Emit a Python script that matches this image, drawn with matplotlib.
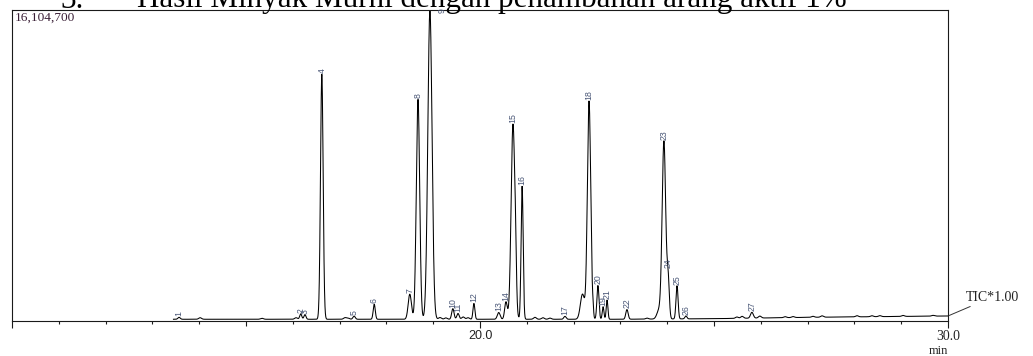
import numpy as np
import matplotlib
matplotlib.use("Agg")
import matplotlib.pyplot as plt

# ---------------------------------------------------------------------------
# GC-MS total ion chromatogram: labelled peaks (retention time in min,
# height above baseline in counts, peak sigma in min)
# ---------------------------------------------------------------------------
peak_ids = [str(i) for i in range(1, 28)]
peak_rt = [13.57, 16.17, 16.26, 16.62, 17.31, 17.74, 18.50, 18.675, 18.93,
           19.42, 19.53, 19.87, 20.40, 20.555, 20.705, 20.90, 21.815, 22.33,
           22.63, 22.52, 22.715, 23.14, 23.93, 24.02, 24.21, 24.40, 25.81]
peak_height = [100000, 280000, 240000, 12690000, 160000, 780000, 1300000,
               11390000, 16000000, 550000, 300000, 820000, 350000, 900000,
               10100000, 6900000, 150000, 11300000, 650000, 1750000, 1000000,
               500000, 9200000, 2000000, 1720000, 150000, 300000]
peak_sigma = [0.025, 0.022, 0.022, 0.028, 0.025, 0.022, 0.035, 0.036, 0.045,
              0.025, 0.025, 0.020, 0.030, 0.028, 0.040, 0.022, 0.025, 0.036,
              0.018, 0.022, 0.018, 0.025, 0.038, 0.025, 0.022, 0.022, 0.030]

# unlabelled shoulders and small baseline bumps
minor_rt = [22.19, 23.825, 20.76, 22.415,
            14.02, 15.34, 16.07, 17.115, 17.18, 19.145, 19.27, 19.64, 19.745,
            21.175, 21.345, 21.495, 23.57, 25.49, 25.60, 25.98, 26.52, 26.69,
            27.115, 27.31, 28.055, 28.375, 28.545, 29.04, 29.68]
minor_height = [1300000, 450000, 1500000, 350000,
                80000, 50000, 80000, 80000, 60000, 90000, 70000, 120000, 80000,
                100000, 80000, 60000, 50000, 70000, 100000, 100000, 50000, 50000,
                50000, 70000, 60000, 50000, 50000, 50000, 40000]
minor_sigma = [0.045, 0.045, 0.018, 0.012] + [0.03] * 25

# baseline level read at a few retention times
baseline_rt = [13.45, 20.0, 23.0, 25.0, 27.0, 30.0]
baseline_level = [90000, 90000, 90000, 120000, 190000, 260000]

y_max = 16104700
x_range = (10.0, 30.0)
run_start = 13.45

# ---------------------------------------------------------------------------
t = np.linspace(run_start, x_range[1], 8000)
signal = np.interp(t, baseline_rt, baseline_level)
for rt, h, s in zip(peak_rt + minor_rt, peak_height + minor_height,
                    peak_sigma + minor_sigma):
    signal = signal + h * np.exp(-0.5 * ((t - rt) / s) ** 2)

W, H = 1033, 356
fig = plt.figure(figsize=(W / 100, H / 100), dpi=100)
ax = fig.add_axes([12 / W, 1 - 321 / H, (948 - 12) / W, (321 - 10) / H])
ax.set_xlim(*x_range)
ax.set_ylim(0, y_max)

ax.plot(t, signal, color="black", lw=0.75, solid_joinstyle="miter")

for s in ax.spines.values():
    s.set_linewidth(0.8)
    s.set_color("#1a1a1a")

ax.set_yticks([])
ax.set_xticks([10, 20, 30])
ax.set_xticklabels(["", "20.0", ""], fontfamily="Liberation Sans", fontsize=9,
                   color="#222222")
ax.set_xticks([i for i in range(11, 30) if i not in (15, 20, 25)], minor=True)
ax.tick_params(axis="x", which="major", length=5, width=0.8, direction="out",
               pad=1.5, color="#1a1a1a")
ax.tick_params(axis="x", which="minor", length=2.2, width=0.8, direction="out",
               color="#1a1a1a")
sec = ax.secondary_xaxis("bottom")
sec.set_xticks([15, 25])
sec.set_xticklabels(["", ""])
sec.tick_params(length=3.6, width=0.8, direction="out", color="#1a1a1a")
sec.spines["bottom"].set_visible(False)

serif = "Liberation Serif"
ax.annotate("30.0", xy=(30, 0), xycoords=("data", "axes fraction"),
            xytext=(0, -6.3), textcoords="offset points", ha="center",
            va="top", fontfamily=serif, fontsize=9.9, color="#222222",
            annotation_clip=False)
ax.annotate("min", xy=(30, 0), xycoords=("data", "axes fraction"),
            xytext=(-6.8, -17.5), textcoords="offset points", ha="center",
            va="top", fontfamily=serif, fontsize=9.0, color="#222222",
            annotation_clip=False)

ax.text(3 / 936, 1 - 2 / 311, f"{y_max:,}", transform=ax.transAxes,
        ha="left", va="top", fontfamily=serif, fontsize=9.6, color="#3a1f36")

# end-of-trace tag
ax.annotate("TIC*1.00", xy=(t[-1], signal[-1]), xycoords="data",
            xytext=(12.5, 13.5), textcoords="offset points", ha="left",
            va="center", fontfamily=serif, fontsize=10, color="#222222",
            annotation_clip=False,
            arrowprops=dict(arrowstyle="-", lw=0.7, color="#333333",
                            shrinkA=0, shrinkB=1))

# peak numbers
label_color = "#4b5878"
for pid, rt in zip(peak_ids, peak_rt):
    top = np.interp(rt, t, signal)
    if top > y_max * 0.97:
        ax.annotate(pid, xy=(rt, y_max), xytext=(8.5, 1.5),
                    textcoords="offset points", rotation=90, ha="center",
                    va="top", fontfamily="Liberation Sans", fontsize=6.3,
                    color=label_color, annotation_clip=False)
    else:
        ax.annotate(pid, xy=(rt, top), xytext=(0, 0.8),
                    textcoords="offset points", rotation=90, ha="center",
                    va="bottom", fontfamily="Liberation Sans", fontsize=6.3,
                    color=label_color, annotation_clip=False)

# heading above the chart
title_y = 1 - 7.5 / H
num = fig.text(60 / W, title_y, "3.", ha="left", va="baseline",
               fontfamily=serif, fontsize=20, color="black")
head = fig.text(137 / W, title_y,
                "Hasil Minyak Murni dengan penambahan arang aktif 1%",
                ha="left", va="baseline", fontfamily=serif, fontsize=20,
                color="black")
fig.canvas.draw()
scale = 710 / head.get_window_extent().width
head.set_fontsize(20 * scale)
num.set_fontsize(20 * scale)

fig.savefig("out.png", dpi=100)
